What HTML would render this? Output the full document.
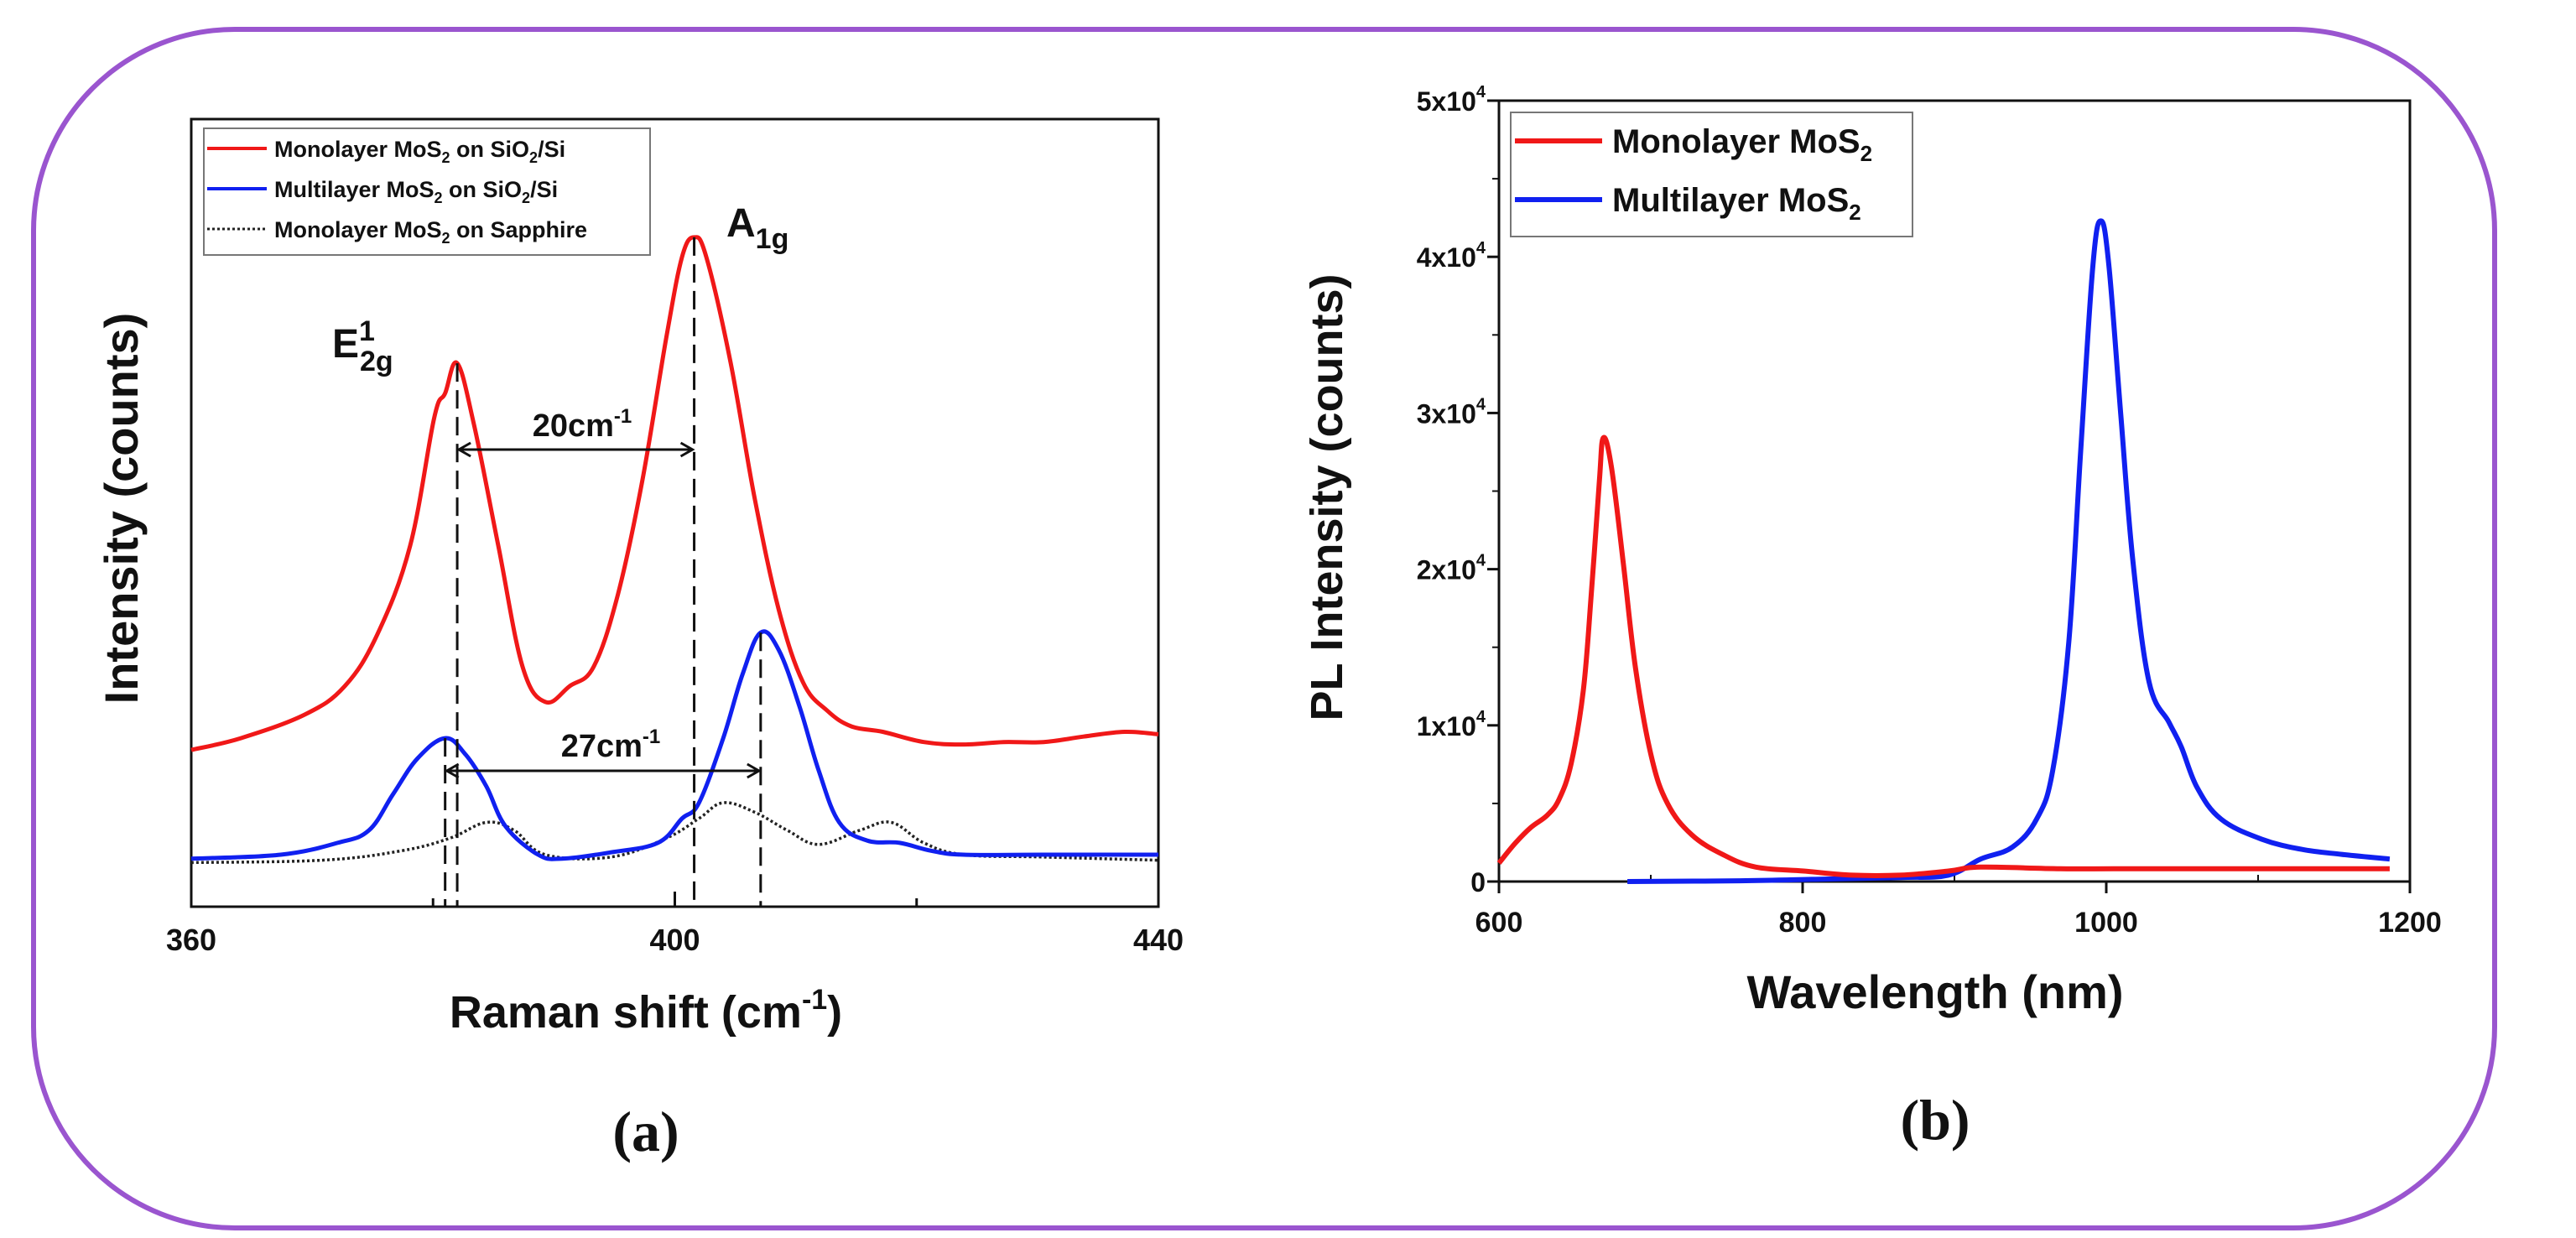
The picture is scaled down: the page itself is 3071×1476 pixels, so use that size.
<!DOCTYPE html>
<html><head><meta charset="utf-8"><style>
html,body{margin:0;padding:0;background:#fff}
svg{display:block}
text{font-family:"Liberation Sans",sans-serif;font-weight:bold;fill:#111}
</style></head><body>
<svg id="fig" width="3071" height="1476" viewBox="0 0 3071 1476" xmlns="http://www.w3.org/2000/svg">
<rect x="40" y="35" width="2934" height="1429" rx="240" ry="240" fill="none" stroke="#9a55cf" stroke-width="6"/>
<g id="plotA"></g>
<g id="plotB"></g>
</svg>
<script>
// ---- Chart (a) data: Raman ----
const ramanRedX=[360,364.1,369.4,372.7,375.4,378.1,380.1,381.0,382.0,383.4,385.4,387.4,389.3,391.3,393.3,395.3,397.3,399.3,400.6,401.6,402.6,404.6,406.6,408.6,410.6,412.6,414.6,417.2,420.6,423.9,427.2,430.5,433.8,437.2,440];
const ramanRedY=[19.9,21.4,24.4,28.0,34.6,45.8,62.1,65.2,69.0,61.1,45.8,30.5,26.0,28.0,30.5,39.7,54.0,72.3,82.5,85.0,82.5,69.2,51.9,37.7,28.5,24.9,22.9,22.2,20.9,20.6,20.9,20.9,21.6,22.2,21.9];
const ramanBlueX=[360,367.4,372.1,374.7,376.7,378.7,381.0,382.7,384.4,386.0,388.7,390.7,394.7,398.6,400.6,402.0,404.0,405.6,407.1,408.6,410.3,411.9,413.6,415.9,418.6,421.2,423.9,430.5,440];
const ramanBlueY=[6.1,6.6,8.1,9.7,14.3,18.8,21.4,19.3,15.3,10.2,6.6,6.1,6.9,8.1,11.2,13.2,21.4,29.5,34.8,32.6,25.5,17.3,10.7,8.4,8.1,7.1,6.6,6.6,6.6];
const ramanBlackX=[360,370.8,377.4,381.4,384.4,386.7,389.3,394.7,399.3,402.0,404.0,406.6,409.3,411.9,415.3,417.9,420.6,423.9,430.5,440];
const ramanBlackY=[5.6,5.9,7.1,8.7,10.7,9.7,6.6,6.3,8.7,11.2,13.2,12.0,9.7,7.9,9.7,10.7,8.1,6.6,6.3,5.9];
const ramanXTicks=[360,400,440];
const ramanMinorTicks=[380,420];
const peakLines=[[382.0,69.0],[381.0,21.4],[401.6,85.0],[407.1,34.8]];

// ---- Chart (b) data: PL ----
const plRedX=[600,610.6,621.1,631.7,639.6,647.6,655.5,660.8,666.1,668.7,674.0,681.9,689.9,700.4,711.0,726.9,748.0,769.2,800.9,832.6,864.3,896.0,917.2,970.0,1022.9,1075.7,1186.7];
const plRedY=[1182,2441,3469,4240,5267,7580,12206,18373,25568,28401,26600,20400,13700,8000,5000,3000,1700,925,670,410,410,670,925,820,820,820,820];
const plBlueX=[684.6,758.6,811.4,864.3,896.0,917.2,938.3,954.2,964.7,975.3,983.2,991.2,996.5,1001.7,1009.7,1017.6,1028.2,1041.4,1049.3,1059.9,1075.7,1102.2,1128.6,1155.0,1186.7];
const plBlueY=[0,50,150,260,410,1440,2210,4010,7090,15310,27650,39460,42300,39460,29700,20450,12780,10180,8650,6010,3990,2720,2060,1740,1440];
const plXTicks=[600,800,1000,1200];
const plXMinor=[700,900,1100];
const plYTicks=[0,10000,20000,30000,40000,50000];
const plYLabels=["0","1x10","2x10","3x10","4x10","5x10"];
const plYMinor=[5000,15000,25000,35000,45000];

const NS="http://www.w3.org/2000/svg";
function mk(parent,tag,attrs,txt){const e=document.createElementNS(NS,tag);for(const k in attrs)e.setAttribute(k,attrs[k]);if(txt!==undefined)e.textContent=txt;parent.appendChild(e);return e;}
function pathFrom(xs,ys,fx,fy){
  const p=xs.map((x,i)=>[fx(x),fy(ys[i])]);
  let d='M'+p[0][0].toFixed(1)+','+p[0][1].toFixed(1);
  const t=0.18;
  for(let i=0;i<p.length-1;i++){
    const p0=p[i-1]||p[i],p1=p[i],p2=p[i+1],p3=p[i+2]||p[i+1];
    const c1=[p1[0]+(p2[0]-p0[0])*t,p1[1]+(p2[1]-p0[1])*t];
    const c2=[p2[0]-(p3[0]-p1[0])*t,p2[1]-(p3[1]-p1[1])*t];
    d+=' C'+c1[0].toFixed(1)+','+c1[1].toFixed(1)+' '+c2[0].toFixed(1)+','+c2[1].toFixed(1)+' '+p2[0].toFixed(1)+','+p2[1].toFixed(1);
  }
  return d;
}

// ===== Chart A =====
const A=document.getElementById('plotA');
const aL=228,aR=1381,aT=142,aB=1081;
const ax=v=>aL+(v-360)/80*(aR-aL);
const ay=v=>aB-v/100*(aB-aT);
let e;
e=mk(A,'rect',{x:aL,y:aT,width:aR-aL,height:aB-aT,fill:'none',stroke:'#111','stroke-width':3});


ramanXTicks.forEach(t=>{
  e=mk(A,'line',{x1:ax(t),x2:ax(t),y1:aB,y2:aB-18,stroke:'#111','stroke-width':3});
  
  
  e=mk(A,'text',{x:ax(t),y:aB+52,'font-size':36,'text-anchor':'middle'},String(t));
  
  
});
ramanMinorTicks.forEach(t=>{
  e=mk(A,'line',{x1:ax(t),x2:ax(t),y1:aB,y2:aB-10,stroke:'#111','stroke-width':3});
  
  
});
e=mk(A,'path',{d:pathFrom(ramanBlackX,ramanBlackY,ax,ay),fill:'none',stroke:'#222','stroke-width':3.5,'stroke-dasharray':'3,3'});


e=mk(A,'path',{d:pathFrom(ramanBlueX,ramanBlueY,ax,ay),fill:'none',stroke:'#1020f0','stroke-width':5,'stroke-linejoin':'round'});


e=mk(A,'path',{d:pathFrom(ramanRedX,ramanRedY,ax,ay),fill:'none',stroke:'#f01818','stroke-width':5,'stroke-linejoin':'round'});


peakLines.forEach(p=>{
  e=mk(A,'line',{x1:ax(p[0]),x2:ax(p[0]),y1:ay(p[1]),y2:aB,stroke:'#111','stroke-width':3,'stroke-dasharray':'22,10'});
  
  
});
function arrow(x1,x2,y,name){
  const g=mk(A,'g',{});
  
  
  mk(g,'line',{x1:x1+4,x2:x2-4,y1:y,y2:y,stroke:'#111','stroke-width':3});
  mk(g,'path',{d:`M${x1+16},${y-8} L${x1+2},${y} L${x1+16},${y+8}`,fill:'none',stroke:'#111','stroke-width':3});
  mk(g,'path',{d:`M${x2-16},${y-8} L${x2-2},${y} L${x2-16},${y+8}`,fill:'none',stroke:'#111','stroke-width':3});
}
arrow(ax(382.0),ax(401.6),536,'shift-20-arrow');
arrow(ax(381.0),ax(407.1),919,'shift-27-arrow');
e=mk(A,'text',{x:694,y:520,'font-size':38,'text-anchor':'middle'});
e.innerHTML='20cm<tspan font-size="24" dy="-16">-1</tspan>';


e=mk(A,'text',{x:728,y:902,'font-size':38,'text-anchor':'middle'});
e.innerHTML='27cm<tspan font-size="24" dy="-16">-1</tspan>';


e=mk(A,'text',{x:396,y:426,'font-size':48});
e.innerHTML='E<tspan font-size="34" dy="-20">1</tspan><tspan font-size="34" dy="36" dx="-18">2g</tspan>';


e=mk(A,'text',{x:866,y:282,'font-size':48});
e.innerHTML='A<tspan font-size="34" dy="14">1g</tspan>';


// legend A
const lgA=mk(A,'g',{});


mk(lgA,'rect',{x:243,y:153,width:532,height:151,fill:'#fff',stroke:'#777','stroke-width':2});
const legA=[['#f01818','','Monolayer MoS','on SiO','/Si',177],['#1020f0','','Multilayer MoS','on SiO','/Si',225],['#222','3,3','Monolayer MoS','on Sapphire','',273]];
legA.forEach(l=>{
  const g=mk(lgA,'g',{});
  
  
  const ln=mk(g,'line',{x1:247,x2:318,y1:l[5],y2:l[5],stroke:l[0],'stroke-width':l[1]?3:4});
  if(l[1])ln.setAttribute('stroke-dasharray',l[1]);
  const t=mk(g,'text',{x:327,y:l[5]+10,'font-size':27});
  t.innerHTML=l[2]+'<tspan font-size="18" dy="7">2</tspan><tspan dy="-7"> '+l[3]+'</tspan>'+(l[4]?'<tspan font-size="18" dy="7">2</tspan><tspan dy="-7">'+l[4]+'</tspan>':'');
});
e=mk(A,'text',{x:770,y:1225,'font-size':54,'text-anchor':'middle'});
e.innerHTML='Raman shift (cm<tspan font-size="34" dy="-22">-1</tspan><tspan dy="22">)</tspan>';


e=mk(A,'text',{x:0,y:0,'font-size':56,'text-anchor':'middle',transform:'translate(164,606) rotate(-90)'},'Intensity (counts)');


e=mk(A,'text',{x:770,y:1372,'font-size':68,'text-anchor':'middle',style:'font-family:"Liberation Serif",serif'},'(a)');



// ===== Chart B =====
const B=document.getElementById('plotB');
const bL=1787,bR=2873,bT=120,bB=1051;
const bx=v=>bL+(v-600)/600*(bR-bL);
const by=v=>bB-v/50000*(bB-bT);
e=mk(B,'rect',{x:bL,y:bT,width:bR-bL,height:bB-bT,fill:'none',stroke:'#111','stroke-width':3});


plXTicks.forEach(t=>{
  e=mk(B,'line',{x1:bx(t),x2:bx(t),y1:bB,y2:bB+14,stroke:'#111','stroke-width':3});
  
  
  e=mk(B,'text',{x:bx(t),y:bB+60,'font-size':34,'text-anchor':'middle'},String(t));
  
  
});
plXMinor.forEach(t=>{
  e=mk(B,'line',{x1:bx(t),x2:bx(t),y1:bB,y2:bB-8,stroke:'#111','stroke-width':2});
  
  
});
plYTicks.forEach((t,i)=>{
  e=mk(B,'line',{x1:bL,x2:bL-14,y1:by(t),y2:by(t),stroke:'#111','stroke-width':3});
  
  
  e=mk(B,'text',{x:bL-16,y:by(t)+12,'font-size':32,'text-anchor':'end'});
  e.innerHTML=plYLabels[i]+(t?'<tspan font-size="20" dy="-16">4</tspan>':'');
  
  
});
plYMinor.forEach(t=>{
  e=mk(B,'line',{x1:bL,x2:bL-8,y1:by(t),y2:by(t),stroke:'#111','stroke-width':2});
  
  
});
e=mk(B,'path',{d:pathFrom(plBlueX,plBlueY,bx,by),fill:'none',stroke:'#1020f0','stroke-width':6,'stroke-linejoin':'round'});


e=mk(B,'path',{d:pathFrom(plRedX,plRedY,bx,by),fill:'none',stroke:'#f01818','stroke-width':6,'stroke-linejoin':'round'});


const lgB=mk(B,'g',{});


mk(lgB,'rect',{x:1801,y:134,width:479,height:148,fill:'#fff',stroke:'#777','stroke-width':2});
[['#f01818','Monolayer MoS',168],['#1020f0','Multilayer MoS',238]].forEach(l=>{
  const g=mk(lgB,'g',{});
  
  
  mk(g,'line',{x1:1806,x2:1910,y1:l[2],y2:l[2],stroke:l[0],'stroke-width':6});
  const t=mk(g,'text',{x:1922,y:l[2]+14,'font-size':40});
  t.innerHTML=l[1]+'<tspan font-size="26" dy="10">2</tspan>';
});
e=mk(B,'text',{x:2307,y:1202,'font-size':56,'text-anchor':'middle'},'Wavelength (nm)');


e=mk(B,'text',{x:0,y:0,'font-size':54,'text-anchor':'middle',transform:'translate(1600,593) rotate(-90)'},'PL Intensity (counts)');


e=mk(B,'text',{x:2307,y:1358,'font-size':68,'text-anchor':'middle',style:'font-family:"Liberation Serif",serif'},'(b)');


</script>
</body></html>
